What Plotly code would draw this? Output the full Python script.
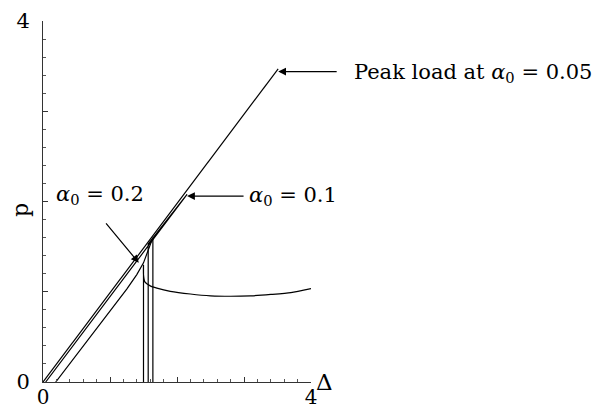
import plotly.graph_objects as go

# Load p against displacement Δ for three initial imperfections α0
delta_a005 = [0.0, 3.51]
p_a005 = [0.0, 3.47]

delta_a01 = [0.04, 2.15, 1.57, 1.57]
p_a01 = [0.0, 2.08, 1.53, 0.0]

delta_a02 = [0.19, 0.70, 1.25, 1.40, 1.50, 1.64, 1.64]
p_a02 = [0.0, 0.49, 1.03, 1.19, 1.32, 1.60, 0.0]

# Post-peak softening branch
delta_soft = [1.50, 1.50, 1.50, 1.52, 1.60, 1.70, 1.90, 2.20, 2.50, 2.80, 3.10, 3.40, 3.70, 4.00]
p_soft = [0.0, 1.30, 1.19, 1.11, 1.065, 1.04, 1.005, 0.975, 0.955, 0.95, 0.955, 0.97, 0.99, 1.035]

SERIF = "DejaVu Serif"
LINE = dict(color="black", width=1.2)

fig = go.Figure()
for xs, ys in [(delta_a005, p_a005), (delta_a01, p_a01),
               (delta_a02, p_a02)]:
    fig.add_trace(go.Scatter(x=xs, y=ys, mode="lines", line=LINE,
                             showlegend=False, hoverinfo="skip", cliponaxis=False))
fig.add_trace(go.Scatter(x=delta_soft, y=p_soft, mode="lines",
                         line=dict(color="black", width=1.2, shape="spline", smoothing=0.6),
                         showlegend=False, hoverinfo="skip", cliponaxis=False))

axis_common = dict(
    range=[0, 4], showgrid=False, zeroline=False, showline=True, automargin=False,
    linecolor="#333", linewidth=1, mirror=False,
    ticks="inside", ticklen=5, tickcolor="#333",
    tickvals=[0, 1, 2, 3, 4], ticktext=["0", "", "", "", "4"],
    minor=dict(ticks="inside", ticklen=3, dtick=0.2, tickcolor="#555", showgrid=False),
)
fig.update_xaxes(**axis_common, ticklabelstandoff=-3,
                 tickfont=dict(family=SERIF, size=20, color="black"))
fig.update_yaxes(**axis_common, ticklabelstandoff=8,
                 tickfont=dict(family=SERIF, size=21, color="black"))

ann = []
# axis titles
ann.append(dict(x=-0.086, y=0.476, xref="paper", yref="paper", text="p", showarrow=False,
                xanchor="center", yanchor="middle",
                textangle=-90, font=dict(family=SERIF, size=22, color="black")))
ann.append(dict(x=1.012, y=0.0, xref="paper", yref="paper", text="Δ", showarrow=False,
                xanchor="left", yanchor="middle", font=dict(family=SERIF, size=23, color="black")))

arrow = dict(showarrow=True, arrowhead=2, arrowsize=1.3, arrowwidth=1.2, arrowcolor="black",
             axref="pixel", ayref="pixel", text="", standoff=0)
ann.append(dict(x=3.51, y=3.44, ax=60, ay=0, **arrow))
ann.append(dict(x=2.15, y=2.06, ax=58, ay=0, **arrow))
ann.append(dict(x=1.43, y=1.32, ax=-34, ay=-41, **arrow))

label_font = dict(family=SERIF, size=21, color="black")
ann.append(dict(x=1.153, y=0.856, xref="paper", yref="paper",
                text="Peak load at <i>α</i><sub>0</sub> = 0.05",
                showarrow=False, xanchor="left", yanchor="middle", font=label_font))
ann.append(dict(x=3.04, y=2.06, text="<i>α</i><sub>0</sub> = 0.1",
                showarrow=False, xanchor="left", yanchor="middle", font=label_font))
ann.append(dict(x=0.17, y=2.07, text="<i>α</i><sub>0</sub> = 0.2",
                showarrow=False, xanchor="left", yanchor="middle", font=label_font))

fig.update_layout(
    width=604, height=411, autosize=False,
    margin=dict(l=43, r=293, t=21, b=29),
    plot_bgcolor="white", paper_bgcolor="white",
    annotations=ann,
)
fig.write_html("out.html")
